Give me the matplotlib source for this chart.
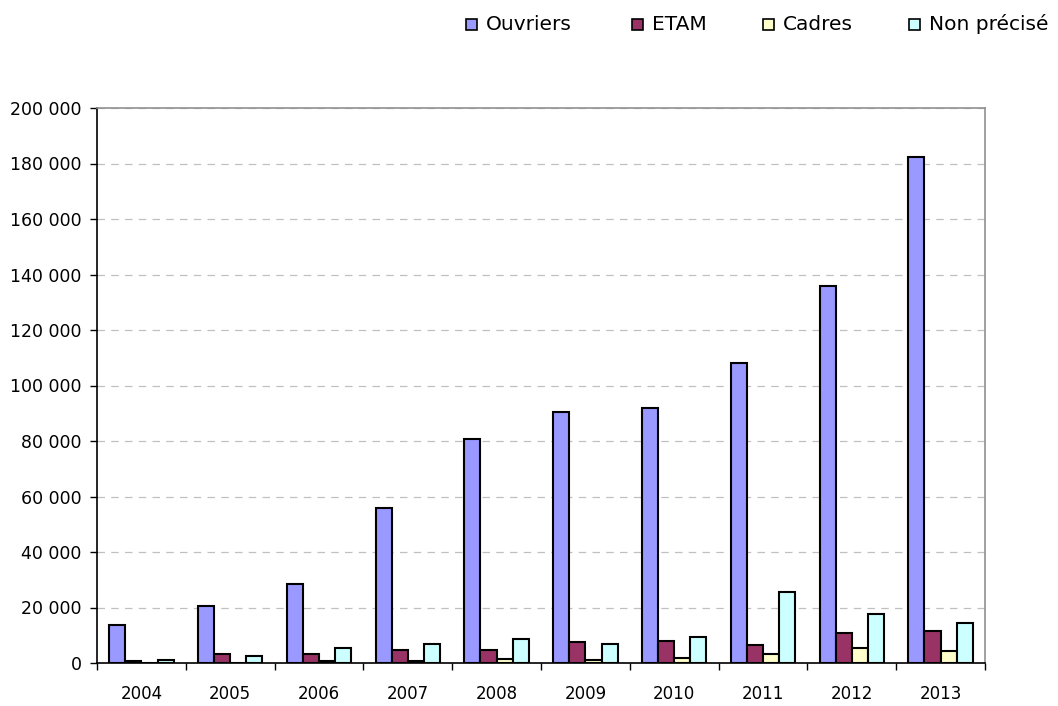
import matplotlib.pyplot as plt
import numpy as np
from matplotlib.patches import Rectangle
from matplotlib.ticker import FuncFormatter, MultipleLocator

plt.rcParams['font.family'] = ['DejaVu Sans']

years = ['2004', '2005', '2006', '2007', '2008', '2009', '2010', '2011', '2012', '2013']
ouvriers = [13700, 20500, 28300, 55800, 80800, 90400, 91800, 108000, 135700, 182500]
etam = [600, 3400, 3300, 4700, 4700, 7400, 8000, 6600, 10800, 11400]
cadres = [100, 0, 700, 700, 1300, 1200, 1900, 3100, 5300, 4500]
non_precise = [1200, 2600, 5300, 6700, 8800, 6700, 9200, 25600, 17500, 14300]

series = [ouvriers, etam, cadres, non_precise]
names = ['Ouvriers', 'ETAM', 'Cadres', 'Non précisé']
colors = ['#9999FF', '#993366', '#FFFFCC', '#CCFFFF']

W, H = 1058, 706
fig = plt.figure(figsize=(W / 100, H / 100), dpi=100)
ax = fig.add_axes([97 / W, (H - 663) / H, 888 / W, 555 / H])

x = np.arange(len(years))
w = 1 / 5.5
for i, vals in enumerate(series):
    ax.bar(x - 2 * w + (i + 0.5) * w, vals, width=w, color=colors[i],
           edgecolor='black', linewidth=1.5, zorder=3)

ax.set_xlim(-0.5, len(years) - 0.5)
ax.set_ylim(0, 200000)
ax.yaxis.set_major_locator(MultipleLocator(20000))
ax.yaxis.set_major_formatter(FuncFormatter(lambda v, p: f'{int(v):,}'.replace(',', ' ')))
ax.grid(axis='y', color='#c0c0c0', linestyle=(0, (6, 5)), linewidth=0.9, zorder=0)

ax.set_xticks(x)
ax.set_xticklabels(years)
ax.set_xticks(np.arange(-0.5, len(years)), minor=True)
ax.tick_params(axis='x', which='major', length=0, pad=16, labelsize=12)
ax.tick_params(axis='x', which='minor', length=5, width=1, direction='out')
ax.tick_params(axis='y', length=5, width=1, direction='out', pad=6, labelsize=12.5)

for s in ['left', 'bottom']:
    ax.spines[s].set_color('black')
    ax.spines[s].set_linewidth(1.2)
for s in ['top', 'right']:
    ax.spines[s].set_color('#909090')
    ax.spines[s].set_linewidth(1.2)

# legend entries placed by hand, like the original
leg_x = [466, 632, 763, 909]
for lx, name, c in zip(leg_x, names, colors):
    fig.patches.append(Rectangle((lx / W, (H - 30) / H), 11 / W, 11 / H,
                                 transform=fig.transFigure, facecolor=c,
                                 edgecolor='black', linewidth=1.2))
    fig.text((lx + 20) / W, (H - 24) / H, name, fontsize=14.5, va='center', ha='left')

fig.savefig('out.png', dpi=100)
